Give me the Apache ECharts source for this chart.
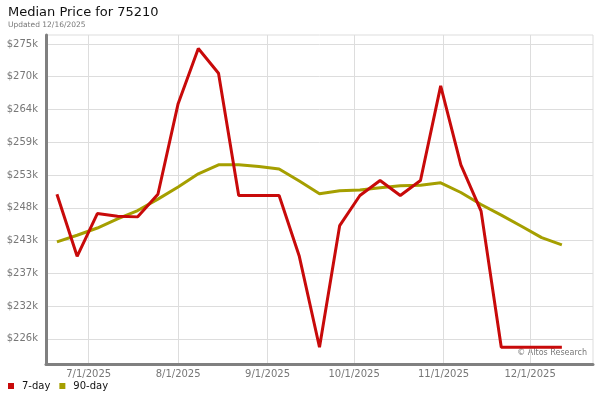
<!DOCTYPE html>
<html>
<head>
<meta charset="utf-8">
<script src="https://cdn.jsdelivr.net/npm/echarts@6/dist/echarts.min.js"></script>
<style>html,body{margin:0;padding:0;background:#fff}#c{width:600px;height:400px}</style>
</head>
<body>
<div id="c"></div>
<script>
// ---- data ----
var dates = ['2025-06-20','2025-06-27','2025-07-04','2025-07-11','2025-07-18','2025-07-25',
  '2025-08-01','2025-08-08','2025-08-15','2025-08-22','2025-08-29','2025-09-05','2025-09-12',
  '2025-09-19','2025-09-26','2025-10-03','2025-10-10','2025-10-17','2025-10-24','2025-10-31',
  '2025-11-07','2025-11-14','2025-11-21','2025-11-28','2025-12-05','2025-12-12'];
var price7day = [250200,239900,247000,246550,246450,250200,265250,274400,270300,250000,250000,250000,
  239900,224800,245000,250000,252500,250000,252500,268200,255100,247400,224800,224800,224800,224800];
var price90day = [242300,243400,244600,246100,247500,249400,251400,253600,255100,255100,254800,254400,
  252400,250300,250800,250900,251300,251600,251700,252100,250500,248500,246750,244900,243000,241800];
var yTicks = [226200,231640,237080,242520,247960,253400,258840,264280,269720,275160];
var yTickLabels = ['$226k','$232k','$237k','$243k','$248k','$253k','$259k','$264k','$270k','$275k'];
var xTicks = ['2025-07-01','2025-08-01','2025-09-01','2025-10-01','2025-11-01','2025-12-01'];
var xTickLabels = ['7/1/2025','8/1/2025','9/1/2025','10/1/2025','11/1/2025','12/1/2025'];
var seriesNames = ['7-day','90-day'];

// ---- build ----
function pairs(vals){ return dates.map(function(d,i){ return [Date.parse(d), vals[i]]; }); }
var xTickVals = xTicks.map(function(d){ return Date.parse(d); });
var FONT = 'DejaVu Sans';

var chart = echarts.init(document.getElementById('c'), null, {renderer:'canvas'});
chart.setOption({
  animation: false,
  backgroundColor: '#fff',
  title: {
    text: 'Median Price for 75210', subtext: 'Updated 12/16/2025',
    left: 3, top: 1, itemGap: 2,
    textStyle: {fontFamily: FONT, fontSize: 13, fontWeight: 'normal', color: '#111'},
    subtextStyle: {fontFamily: FONT, fontSize: 7.5, color: '#777'}
  },
  legend: {
    left: 3, top: 376, itemWidth: 6, itemHeight: 6, itemGap: 9, icon: 'rect',
    textStyle: {fontFamily: FONT, fontSize: 10, color: '#111', padding: [0,0,0,3]},
    data: seriesNames
  },
  grid: {left: 46, right: 7, top: 35, bottom: 36, show: true, borderColor: '#ddd', borderWidth: 1, outerBoundsMode: 'none'},
  xAxis: {
    type: 'value',
    min: Date.UTC(2025,5,16,5), max: Date.UTC(2025,11,22,19),
    axisLine: {show: true, onZero: false, lineStyle: {color: '#808080', width: 3}},
    axisTick: {show: false, customValues: xTickVals},
    splitLine: {show: true, lineStyle: {color: '#ddd', width: 1}},
    axisLabel: {
      customValues: xTickVals, margin: 5,
      fontFamily: FONT, fontSize: 10, color: '#777',
      formatter: function(v){ var i = xTickVals.indexOf(v); return i >= 0 ? xTickLabels[i] : ''; }
    }
  },
  yAxis: {
    type: 'value', min: 222020, max: 276650,
    axisLine: {show: true, onZero: false, lineStyle: {color: '#808080', width: 3}},
    axisTick: {show: false, customValues: yTicks},
    splitLine: {show: true, lineStyle: {color: '#ddd', width: 1}},
    axisLabel: {
      customValues: yTicks, margin: 8,
      fontFamily: FONT, fontSize: 10, color: '#777',
      formatter: function(v){ var i = yTicks.indexOf(v); return i >= 0 ? yTickLabels[i] : ''; }
    }
  },
  graphic: [{
    type: 'text', right: 13, top: 349,
    style: {text: '\u00a9 Altos Research', font: '8px "DejaVu Sans"', fill: '#777'}
  }],
  series: [
    {name: seriesNames[0], type: 'line', data: pairs(price7day), showSymbol: false, symbol: 'none',
     itemStyle: {color: '#c80a0a'}, lineStyle: {color: '#c80a0a', width: 3}, z: 3},
    {name: seriesNames[1], type: 'line', data: pairs(price90day), showSymbol: false, symbol: 'none',
     itemStyle: {color: '#a59f00'}, lineStyle: {color: '#a59f00', width: 3}, z: 2}
  ]
});
</script>
</body>
</html>
